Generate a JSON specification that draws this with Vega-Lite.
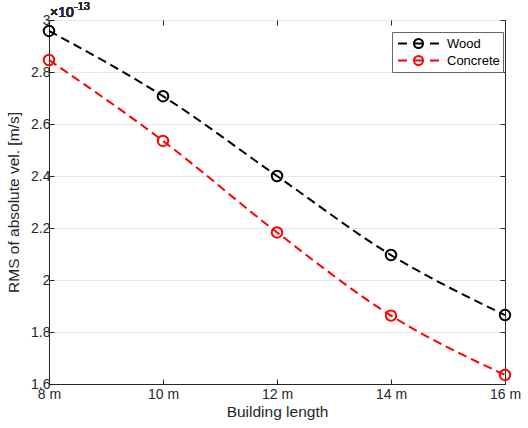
{
  "$schema": "https://vega.github.io/schema/vega-lite/v6.json",
  "width": 456,
  "height": 364,
  "autosize": {"type": "none"},
  "padding": {"left": 49, "top": 20, "right": 23, "bottom": 44},
  "background": "white",
  "data": {"values": [
    {"length": 8, "rms": 2.958, "material": "Wood"},
    {"length": 10, "rms": 2.707, "material": "Wood"},
    {"length": 12, "rms": 2.400, "material": "Wood"},
    {"length": 14, "rms": 2.096, "material": "Wood"},
    {"length": 16, "rms": 1.865, "material": "Wood"},
    {"length": 8, "rms": 2.846, "material": "Concrete"},
    {"length": 10, "rms": 2.535, "material": "Concrete"},
    {"length": 12, "rms": 2.183, "material": "Concrete"},
    {"length": 14, "rms": 1.863, "material": "Concrete"},
    {"length": 16, "rms": 1.635, "material": "Concrete"}
  ]},
  "config": {
    "view": {"stroke": "#262626", "strokeWidth": 1},
    "font": "Liberation Sans",
    "axis": {"labelFont": "Liberation Sans", "titleFont": "Liberation Sans", "labelColor": "#262626", "titleColor": "#262626", "domainColor": "#262626", "tickColor": "#262626", "labelFontSize": 14, "titleFontSize": 15.5, "titleFontWeight": "normal"}
  },
  "resolve": {"axis": {"x": "independent", "y": "independent"}},
  "layer": [
    {
      "mark": {"type": "line", "interpolate": "monotone", "strokeDash": [9, 5], "strokeWidth": 2},
      "encoding": {
        "x": {"field": "length", "type": "quantitative", "scale": {"domain": [8, 16], "nice": false, "zero": false},
          "axis": {"values": [8, 10, 12, 14, 16], "labelExpr": "datum.value + ' m'", "grid": false, "tickSize": -5, "labelPadding": 8, "title": "Building length", "titleFontSize": 15.5, "titlePadding": 3, "labelFlush": false}},
        "y": {"field": "rms", "type": "quantitative", "scale": {"domain": [1.6, 3], "nice": false, "zero": false},
          "axis": {"values": [1.6, 1.8, 2, 2.2, 2.4, 2.6, 2.8, 3], "labelExpr": "format(datum.value, '.1~f')", "grid": true, "gridColor": "#e6e6e6", "tickSize": -5, "labelPadding": 4, "title": "RMS of absolute vel. [m/s]", "titlePadding": 9}},
        "color": {"field": "material", "type": "nominal", "scale": {"domain": ["Wood", "Concrete"], "range": ["#000000", "#ff0000"]},
          "legend": {"title": null, "orient": "none", "legendX": 343, "legendY": 12, "symbolType": "M-0.73,0H0.47M1.4,0H2.6M1.4,0A0.6,0.6 0 1,0 2.6,0A0.6,0.6 0 1,0 1.4,0M3.53,0H4.73", "symbolSize": 225, "symbolStrokeWidth": 2, "symbolFillColor": "transparent", "labelFontSize": 13, "labelColor": "#000000", "labelOffset": 35, "strokeColor": "#666666", "fillColor": "white", "padding": 3, "rowPadding": -1, "labelFont": "Liberation Sans"}}
      }
    },
    {
      "mark": {"type": "point", "shape": "circle", "filled": false, "size": 110, "strokeWidth": 2, "opacity": 1},
      "encoding": {
        "x": {"field": "length", "type": "quantitative", "axis": {"orient": "top", "values": [8, 10, 12, 14, 16], "labels": false, "domain": false, "grid": false, "tickSize": -5, "title": null}},
        "y": {"field": "rms", "type": "quantitative", "axis": {"orient": "right", "values": [1.6, 1.8, 2, 2.2, 2.4, 2.6, 2.8, 3], "labels": false, "domain": false, "grid": false, "tickSize": -5, "title": null}},
        "color": {"field": "material", "type": "nominal", "legend": null}
      }
    },
    {
      "mark": {"type": "text", "text": "×10", "align": "left", "baseline": "alphabetic", "fontSize": 14, "dx": 1, "dy": -3, "color": "#262626", "font": "Liberation Sans"},
      "encoding": {
        "x": {"datum": 8, "type": "quantitative", "axis": null},
        "y": {"datum": 3, "type": "quantitative", "axis": null}
      }
    },
    {
      "mark": {"type": "text", "text": "-13", "align": "left", "baseline": "alphabetic", "fontSize": 11, "dx": 25, "dy": -10, "color": "#262626", "font": "Liberation Sans"},
      "encoding": {
        "x": {"datum": 8, "type": "quantitative", "axis": null},
        "y": {"datum": 3, "type": "quantitative", "axis": null}
      }
    }
  ]
}
